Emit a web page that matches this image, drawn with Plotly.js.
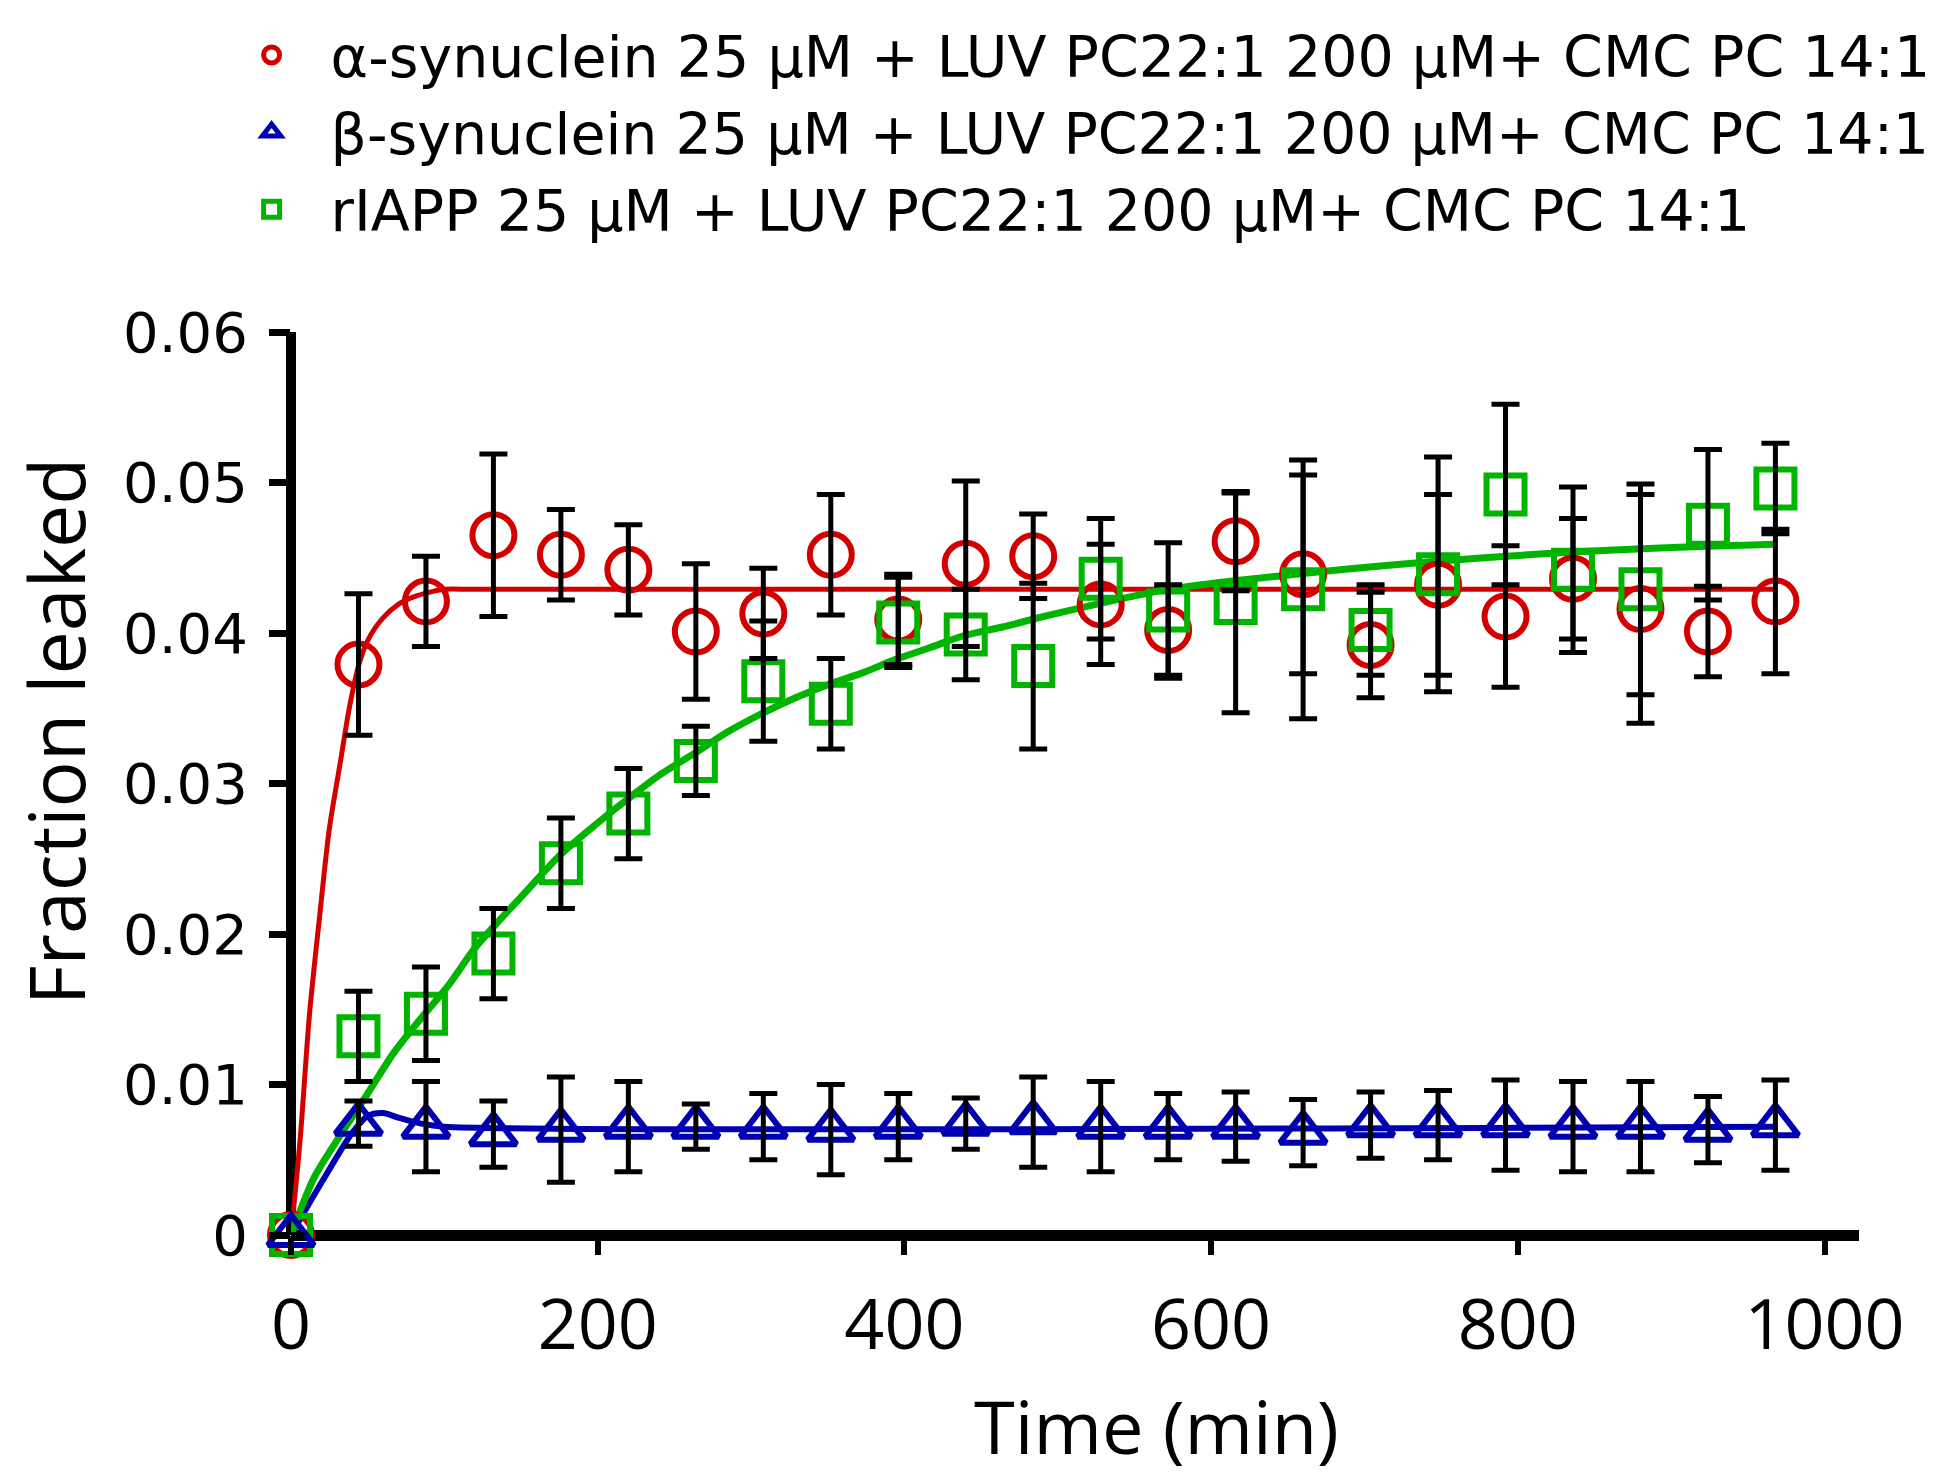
<!DOCTYPE html>
<html>
<head>
<meta charset="utf-8">
<script src="https://cdn.plot.ly/plotly-3.0.1.min.js"></script>
<style>html,body{margin:0;padding:0;background:#fff;}#chart{width:1950px;height:1477px;}</style>
</head>
<body>
<div id="chart"></div>
<script>
// ---- data ----
const time = [0,44,88,132,176,220,264,308,352,396,440,484,528,572,616,660,704,748,792,836,880,924,968];

const alphaSyn = [0,0.0379,0.0421,0.0465,0.0452,0.0442,0.0401,0.0413,0.0452,0.0409,0.0446,0.0451,0.0419,0.0402,0.0461,0.0439,0.0392,0.0432,0.0411,0.0436,0.0416,0.0401,0.0421];
const alphaErr = [null,0.0047,0.003,0.0054,0.003,0.003,0.0045,0.003,0.004,0.003,0.0055,0.0028,0.004,0.003,0.0033,0.0066,0.0035,0.006,0.0047,0.004,0.0076,0.003,0.0048];

const betaSyn = [0,0.0074,0.0072,0.0067,0.0070,0.0072,0.0072,0.0072,0.0070,0.0072,0.0074,0.0075,0.0072,0.0072,0.0072,0.0068,0.0073,0.0073,0.0073,0.0072,0.0072,0.0070,0.0073];
const betaErr = [null,0.0015,0.003,0.0022,0.0035,0.003,0.0015,0.0022,0.003,0.0022,0.0017,0.003,0.003,0.0022,0.0023,0.0022,0.0022,0.0023,0.003,0.003,0.003,0.0022,0.003];

const rIAPP = [0,0.0132,0.0147,0.0187,0.0247,0.028,0.0315,0.0368,0.0353,0.0407,0.0399,0.0378,0.0436,0.0415,0.0420,0.0429,0.0402,0.0439,0.0492,0.0442,0.0429,0.0472,0.0496];
const rIAPPErr = [null,0.003,0.0031,0.003,0.003,0.003,0.0023,0.004,0.003,0.003,0.003,0.0055,0.004,0.0045,0.0073,0.0086,0.003,0.0078,0.006,0.0055,0.007,0.005,0.003];

// fitted curves
const alphaFitT = [0,6,12,19,25,32,38,44,50,60,70,80,90,100,120,968];
const alphaFitY = [0,0.0064,0.0146,0.0215,0.027,0.0313,0.035,0.0378,0.0395,0.041,0.0419,0.0424,0.0427,0.0429,0.0429,0.0429];

const betaFitT = [0,20,40,50,60,70,85,100,968];
const betaFitY = [0,0.0035,0.0068,0.0079,0.0081,0.0078,0.0074,0.0072,0.0072];

const rIAPPFitT = [0,15,32,50,67,84,102,121,154,176,199,220,241,263,286,308,329,351,374,393,416,438,464,495,572,655,739,822,905,968];
const rIAPPFitY = [0,0.0038,0.0066,0.0094,0.0121,0.0143,0.0165,0.0192,0.0229,0.0253,0.0273,0.029,0.0306,0.032,0.0335,0.0347,0.0357,0.0366,0.0374,0.0382,0.039,0.0398,0.0404,0.0412,0.0429,0.0439,0.0447,0.0453,0.0457,0.0459];

const seriesNames = [
  'α-synuclein 25 μM + LUV PC22:1 200 μM+ CMC PC 14:1',
  'β-synuclein 25 μM + LUV PC22:1 200 μM+ CMC PC 14:1',
  'rIAPP 25 μM + LUV PC22:1 200 μM+ CMC PC 14:1'
];
const xTicks = [0,200,400,600,800,1000];
const yTicks = [0,0.01,0.02,0.03,0.04,0.05,0.06];
const yTickText = ['0','0.01','0.02','0.03','0.04','0.05','0.06'];

// ---- styles ----
const RED = '#d40000', BLUE = '#0000b0', GREEN = '#00b400';

function fit(x, y, color, w) {
  return {x: x, y: y, type: 'scatter', mode: 'lines', showlegend: false, hoverinfo: 'skip',
          line: {color: color, width: w, shape: 'spline', smoothing: 0.8}, cliponaxis: false};
}
function pts(x, y, name, color, symbol, size, rank) {
  return {x: x, y: y, name: name, type: 'scatter', mode: 'markers', legendrank: rank,
          marker: {symbol: symbol, size: size, color: color, line: {color: color, width: 6}},
          cliponaxis: false};
}
function errs(x, y, e) {
  return {x: x, y: y, type: 'scatter', mode: 'markers', showlegend: false, hoverinfo: 'skip',
          marker: {size: 1, color: 'rgba(0,0,0,0)'},
          error_y: {type: 'data', array: e, visible: true, color: '#000', thickness: 5, width: 14},
          cliponaxis: false};
}

const data = [
  fit(alphaFitT, alphaFitY, RED, 5),
  fit(betaFitT, betaFitY, BLUE, 6),
  fit(rIAPPFitT, rIAPPFitY, GREEN, 7),
  pts(time, alphaSyn, seriesNames[0], RED, 'circle-open', 42, 1),
  pts(time, rIAPP, seriesNames[2], GREEN, 'square-open', 38, 3),
  pts(time, betaSyn, seriesNames[1], BLUE, 'triangle-up-open', 40, 2),
  errs(time, alphaSyn, alphaErr),
  errs(time, rIAPP, rIAPPErr),
  errs(time, betaSyn, betaErr)
];

const layout = {
  width: 1950, height: 1477,
  margin: {l: 291, r: 91, t: 330, b: 242},
  paper_bgcolor: '#fff', plot_bgcolor: '#fff',
  showlegend: true,
  legend: {x: -0.05, y: 1.355, xanchor: 'left', yanchor: 'top',
           font: {family: 'DejaVu Sans', size: 57, color: '#000'},
           bgcolor: 'rgba(0,0,0,0)', itemwidth: 108, tracegroupgap: 0},
  xaxis: {range: [0, 1022.5], tickmode: 'array', tickvals: xTicks, ticktext: xTicks.map(String),
          showgrid: false, showline: false, zeroline: true, zerolinecolor: '#000', zerolinewidth: 10,
          ticks: 'outside', ticklen: 19, tickwidth: 6, tickcolor: '#000',
          tickfont: {family: 'Open Sans', size: 70, color: '#000'}, ticklabelstandoff: 10},
  yaxis: {range: [0, 0.06], tickmode: 'array', tickvals: yTicks, ticktext: yTickText,
          showgrid: false, showline: false, zeroline: true, zerolinecolor: '#000', zerolinewidth: 11,
          ticks: 'outside', ticklen: 21, tickwidth: 7, tickcolor: '#000',
          tickfont: {family: 'DejaVu Sans', size: 56, color: '#000'}, ticklabelstandoff: 10},
  annotations: [
    {text: 'Time (min)', xref: 'paper', yref: 'paper', x: 0.552, y: -0.211, xanchor: 'center', yanchor: 'middle',
     showarrow: false, font: {family: 'Open Sans', size: 74, color: '#000'}},
    {text: 'Fraction leaked', xref: 'paper', yref: 'paper', x: -0.1505, y: 0.558, xanchor: 'center', yanchor: 'middle',
     textangle: -90, showarrow: false, font: {family: 'Open Sans', size: 77, color: '#000'}}
  ]
};

Plotly.newPlot('chart', data, layout, {staticPlot: true, displayModeBar: false});
</script>
</body>
</html>
